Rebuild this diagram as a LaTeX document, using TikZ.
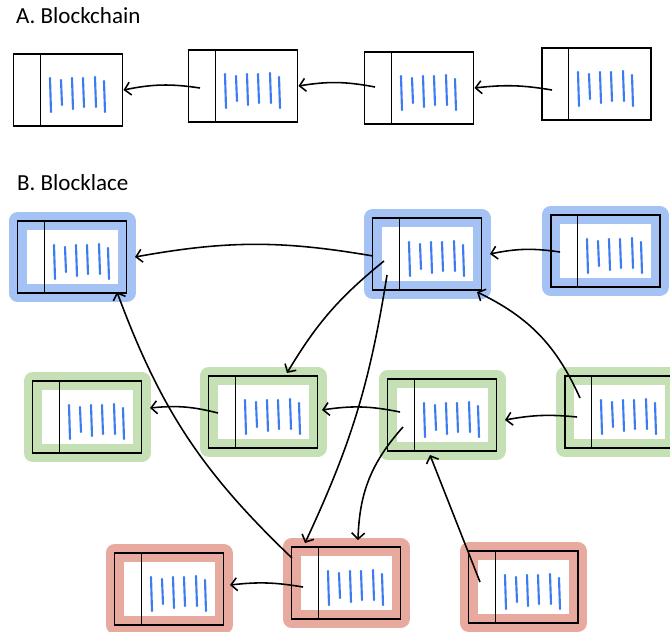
\documentclass[tikz,border=0pt]{standalone}
\usepackage{fontspec}
\setmainfont{Carlito}
\usetikzlibrary{arrows.meta}
\definecolor{haloblue}{HTML}{A4C2F4}
\definecolor{halogreen}{HTML}{C5E0B4}
\definecolor{halored}{HTML}{E8A99E}
\definecolor{inkblue}{HTML}{3D7BF0}
\begin{document}
\begin{tikzpicture}[x=1pt, y=1pt,
	heading/.style={anchor=base west, inner sep=0pt, font=\fontsize{23}{27}\selectfont},
	block/.style={draw, line width=0.7mm, minimum width=109pt, minimum height=72pt, inner sep=0pt,
		path picture={
			\draw[line width=0.6mm] ([xshift=27pt]path picture bounding box.north west) -- ([xshift=27pt]path picture bounding box.south west);
			\foreach \dx/\ta/\tb in {-18/12/-22, -7/10/-15, 4/12/-19, 15/12/-17, 27/13/-17, 36/9/-22}
				\draw[inkblue, line width=0.75mm, line cap=round] ([shift={(\dx pt,\ta pt)}]path picture bounding box.center) -- ([shift={(\dx pt+1pt,\tb pt)}]path picture bounding box.center);
		}},
	halo/.style={block, outer sep=8.5pt, preaction={draw=#1, line width=18pt, line join=round}},
	link/.style={line width=0.55mm, -{Straight Barb[length=6pt, width=13pt]}}]
				\useasboundingbox (0,0) rectangle (670,-632);

				\node[heading] (chain) at (16,-23) {A. Blockchain};
				\node[heading] (lace) at (17,-190) {B. Blocklace};

				\node[block] (a1) at (68,-90) {};
				\node[block] (a2) at (243,-86) {};
				\node[block] (a3) at (419,-88) {};
				\node[block] (a4) at (596,-84) {};
				\draw[link] ([shift={(-43,-2)}]a2.center) to[bend right=10] (a1.east);
				\draw[link] ([shift={(-44,1)}]a3.center) to[bend right=10] (a2.east);
				\draw[link] ([shift={(-44,-6)}]a4.center) to[bend right=8] (a3.east);

				\node[halo=haloblue] (b1) at (72,-257) {};
				\node[halo=haloblue] (b2) at (427,-254) {};
				\node[halo=haloblue] (b3) at (605,-251) {};
				\node[halo=halogreen] (g1) at (87,-417) {};
				\node[halo=halogreen] (g2) at (263,-412) {};
				\node[halo=halogreen] (g3) at (442,-415) {};
				\node[halo=halogreen] (g4) at (619,-412) {};
				\node[halo=halored] (r1) at (169,-589) {};
				\node[halo=halored] (r2) at (346,-583) {};
				\node[halo=halored] (r3) at (523,-587) {};

				\draw[link] ([shift={(-54,-2)}]b2.center) to[bend right=10] (b1.east);
				\draw[link] ([shift={(-45,-1)}]b3.center) to[bend right=10] (b2.east);
				\draw[link] ([shift={(-43,-7)}]b2.center) to[bend right=10] ([shift={(24,39)}]g2.center);
				\draw[link] ([shift={(-40,-21)}]b2.center) to[bend left=8] ([shift={(-41,40)}]r2.center);
				\draw[link] ([shift={(-39,14)}]g4.center) to[bend right=20] ([shift={(50,-38)}]b2.center);
				\draw[link] ([shift={(-45,-1)}]g2.center) to[bend right=10] ([shift={(63,9)}]g1.center);
				\draw[link] ([shift={(-42,3)}]g3.center) to[bend right=10] ([shift={(59,2)}]g2.center);
				\draw[link] ([shift={(-42,-5)}]g4.center) to[bend right=8] ([shift={(63,-5)}]g3.center);
				\draw[link] ([shift={(-39,-12)}]g3.center) to[bend right=20] ([shift={(12,43)}]r2.center);
				\draw[link] ([shift={(-54,25)}]r2.center) to[bend left=13] ([shift={(45,-35)}]b1.center);
				\draw[link] ([shift={(-43,-4)}]r2.center) to[bend right=8] ([shift={(61,4)}]r1.center);
				\draw[link] ([shift={(-43,5)}]r3.center) -- ([shift={(-12,-40)}]g3.center);
			\end{tikzpicture}
\end{document}
